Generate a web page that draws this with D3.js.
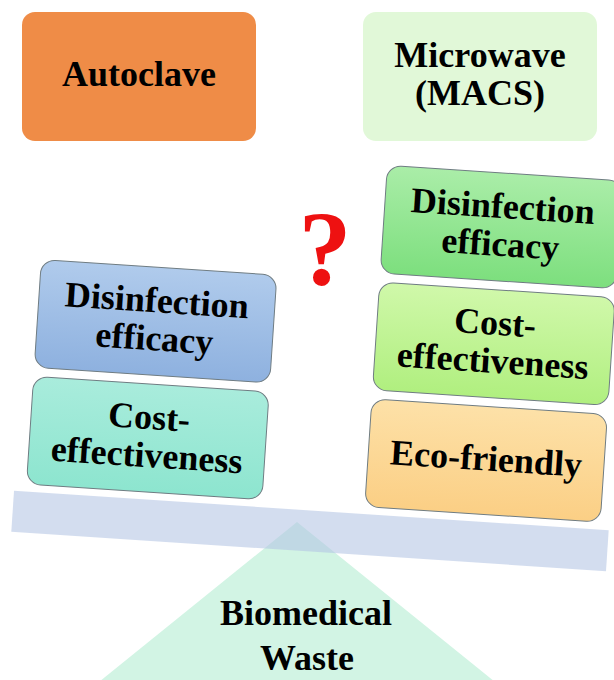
<!DOCTYPE html>
<html>
<head>
<meta charset="utf-8">
<script src="https://cdn.jsdelivr.net/npm/d3@7"></script>
<style>
  body { margin: 0; background: #fff; }
  svg { display: block; }
</style>
</head>
<body>
<script>
// ========================================
// Data: labels of the diagram
// ========================================
const methods = ['Autoclave', 'Microwave (MACS)'];
const methodLines = [['Autoclave'], ['Microwave', '(MACS)']];
// traits of each method, from the beam upwards
const autoclaveTraits = [['Cost-', 'effectiveness'], ['Disinfection', 'efficacy']];
const microwaveTraits = [['Eco-friendly'], ['Cost-', 'effectiveness'], ['Disinfection', 'efficacy']];
const baseLabel = ['Biomedical', 'Waste'];
const questionMark = '?';

// ========================================
// Dimensions and styles
// ========================================
const
  width = 614,
  height = 680,
  font = "'Liberation Serif', 'Times New Roman', serif",
  fontSize = 36,
  lineH = 38,
  tilt = 3.8,                 // beam angle in degrees
  pivot = [310, 531],         // beam centre
  boxW = 236,
  boxH = 108;

const topFill = ['#ef8c47', '#e1f8d8'];
const autoclaveFill = [['#a9ecdc', '#8de5cf'], ['#b0cbec', '#8eb1df']];
const microwaveFill = [['#fde1a8', '#fbcf85'], ['#d0f8aa', '#b0ef7f'], ['#aaeda8', '#7ddf7e']];

const svg = d3.select('body')
  .append('svg')
    .attr('width', width)
    .attr('height', height);

const defs = svg.append('defs');
function gradient(id, c) {
  const g = defs.append('linearGradient')
    .attr('id', id)
    .attr('x1', 0).attr('y1', 0).attr('x2', 0).attr('y2', 1);
  g.append('stop').attr('offset', '0%').attr('stop-color', c[0]);
  g.append('stop').attr('offset', '100%').attr('stop-color', c[1]);
}
autoclaveFill.forEach((c, i) => gradient('ga' + i, c));
microwaveFill.forEach((c, i) => gradient('gm' + i, c));

// ========================================
// Scales
// ========================================
const xTop = d3.scalePoint().domain(methods).range([139, 480]);
const xCol = d3.scalePoint().domain(methods).range([-168, 171]);  // in the beam frame
const yLevel = d3.scaleLinear().domain([0, 1]).range([-82, -199]); // in the beam frame

function addLines(g, lines, cx, cy) {
  g.selectAll(null)
    .data(lines)
    .enter()
    .append('text')
      .attr('x', cx)
      .attr('y', (d, k) => cy + 10 + (k - (lines.length - 1) / 2) * lineH)
      .attr('text-anchor', 'middle')
      .style('font-family', font)
      .style('font-weight', 'bold')
      .style('font-size', fontSize + 'px')
      .style('fill', '#000')
      .text(d => d);
}

// ========================================
// Top boxes
// ========================================
methods.forEach((m, i) => {
  const g = svg.append('g');
  g.append('rect')
    .attr('x', xTop(m) - 117)
    .attr('y', 12)
    .attr('width', 234)
    .attr('height', 129)
    .attr('rx', 13)
    .attr('fill', topFill[i]);
  addLines(g, methodLines[i], xTop(m), 76);
});

// ========================================
// Fulcrum (triangle)
// ========================================
svg.append('path')
  .attr('d', 'M297,522 L89,690 L505,690 Z')
  .attr('fill', '#d2f4e4');

addLines(svg, baseLabel.slice(0, 1), 306, 615);
addLines(svg, baseLabel.slice(1), 307, 660);

// ========================================
// Beam and the stacked boxes (tilted)
// ========================================
const beam = svg.append('g')
  .attr('transform', 'translate(' + pivot[0] + ',' + pivot[1] + ') rotate(' + tilt + ')');

beam.append('rect')
  .attr('x', -298)
  .attr('y', -20.5)
  .attr('width', 596)
  .attr('height', 41)
  .attr('fill', '#b4c5e4')
  .attr('fill-opacity', 0.58);

[[autoclaveTraits, 'ga'], [microwaveTraits, 'gm']].forEach(([traits, gid], c) => {
  const cx = xCol(methods[c]);
  traits.forEach((lines, lvl) => {
    const cy = yLevel(lvl);
    const g = beam.append('g');
    g.append('rect')
      .attr('x', cx - boxW / 2)
      .attr('y', cy - boxH / 2)
      .attr('width', boxW)
      .attr('height', boxH)
      .attr('rx', 14)
      .attr('fill', 'url(#' + gid + lvl + ')')
      .attr('stroke', '#6f7c82')
      .attr('stroke-width', 1);
    addLines(g, lines, cx, cy);
  });
});

// ========================================
// Question mark
// ========================================
svg.append('text')
  .attr('x', 325)
  .attr('y', 285)
  .attr('text-anchor', 'middle')
  .style('font-family', font)
  .style('font-weight', 'bold')
  .style('font-size', '106px')
  .style('fill', '#ee1111')
  .text(questionMark);
</script>
</body>
</html>
